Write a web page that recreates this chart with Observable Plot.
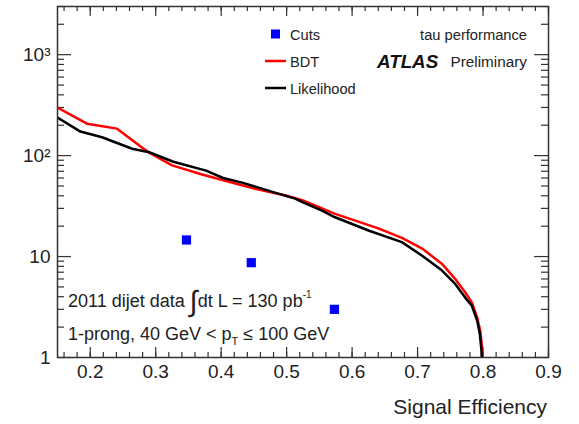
<!DOCTYPE html>
<html><head><meta charset="utf-8">
<script src="https://cdn.jsdelivr.net/npm/d3@7"></script>
<script src="https://cdn.jsdelivr.net/npm/@observablehq/plot@0.6"></script>
<style>
body{margin:0;background:#fff}
#chart{position:relative;width:579px;height:424px}
</style>
</head><body><div id="chart"></div>
<script>
// ---- data ----
const bdtEff = [0.150, 0.195, 0.241, 0.279, 0.290, 0.325, 0.371, 0.403, 0.452, 0.500, 0.525, 0.574, 0.605, 0.640, 0.676, 0.707, 0.737, 0.757, 0.773, 0.783, 0.791, 0.796, 0.7985, 0.799];
const bdtRej = [299, 207, 185, 120, 107, 80, 65, 57, 47, 40, 36, 26.5, 22.7, 19, 15.3, 12.0, 8.5, 6.05, 4.4, 3.5, 2.5, 1.8, 1.25, 1.0];
const likEff = [0.150, 0.185, 0.218, 0.264, 0.290, 0.327, 0.377, 0.403, 0.432, 0.482, 0.513, 0.525, 0.554, 0.574, 0.626, 0.676, 0.707, 0.737, 0.757, 0.773, 0.783, 0.791, 0.795, 0.7975, 0.798];
const likRej = [238, 173, 152, 117, 108, 87, 71, 60, 54, 43, 37.5, 34.5, 28.5, 24.5, 18, 13.9, 10.2, 7.3, 5.4, 3.9, 3.25, 2.32, 1.73, 1.2, 1.0];
const cutsEff = [0.347, 0.446, 0.573];
const cutsRej = [14.6, 8.7, 3.0];

const seriesNames = ["Cuts", "BDT", "Likelihood"];
const seriesColors = ["#0000ff", "#ff0000", "#000000"];

const xTicks = [0.2, 0.3, 0.4, 0.5, 0.6, 0.7, 0.8, 0.9];
const xTickLabels = ["0.2", "0.3", "0.4", "0.5", "0.6", "0.7", "0.8", "0.9"];
const yTicks = [1, 10, 100, 1000];
const yTickLabels = ["1", "10", "10²", "10³"];
const xTitle = "Signal Efficiency";

// ---- build ----
const W = 579, H = 424, mL = 57, mR = 31, mT = 6, mB = 67;
const PW = W - mL - mR, PH = H - mT - mB;
const axisColor = "#333";

const bdt = bdtEff.map((x, i) => ({x, y: bdtRej[i]}));
const lik = likEff.map((x, i) => ({x, y: likRej[i]}));
const cuts = cutsEff.map((x, i) => ({x, y: cutsRej[i]}));

const xMinor = d3.range(8, 46).map(k => k * 0.02);
const yMinor = [];
for (const d of [1, 10, 100, 1000]) for (let k = 2; k <= 9; k++) if (k * d <= 3000) yMinor.push(k * d);

const plot = Plot.plot({
  width: W, height: H,
  marginLeft: mL, marginRight: mR, marginTop: mT, marginBottom: mB,
  style: {fontFamily: "'Liberation Sans', Arial, sans-serif", background: "#fff"},
  x: {domain: [0.15, 0.9]},
  y: {type: "log", domain: [1, 3000]},
  marks: [
    Plot.axisX({ticks: xTicks, tickFormat: d => xTickLabels[xTicks.indexOf(d)], tickSize: 0, tickPadding: 7, fontSize: 19, fill: "#222", label: null}),
    Plot.axisY({ticks: yTicks, tickFormat: d => yTickLabels[yTicks.indexOf(d)], tickSize: 0, tickPadding: 7, fontSize: 19, fill: "#222", label: null}),
    // inward ticks
    Plot.tickX(xMinor, {x: d => d, insetTop: PH - 5, stroke: axisColor, strokeWidth: 1.2}),
    Plot.tickX(xTicks, {x: d => d, insetTop: PH - 10, stroke: axisColor, strokeWidth: 1.2}),
    Plot.tickX(xMinor, {x: d => d, insetBottom: PH - 5, stroke: axisColor, strokeWidth: 1.2}),
    Plot.tickX(xTicks, {x: d => d, insetBottom: PH - 10, stroke: axisColor, strokeWidth: 1.2}),
    Plot.tickY(yMinor, {y: d => d, insetRight: PW - 7, stroke: axisColor, strokeWidth: 1.2}),
    Plot.tickY(yTicks, {y: d => d, insetRight: PW - 14, stroke: axisColor, strokeWidth: 1.2}),
    Plot.tickY(yMinor, {y: d => d, insetLeft: PW - 7, stroke: axisColor, strokeWidth: 1.2}),
    Plot.tickY(yTicks, {y: d => d, insetLeft: PW - 14, stroke: axisColor, strokeWidth: 1.2}),
    Plot.line(bdt, {x: "x", y: "y", stroke: seriesColors[1], strokeWidth: 2.5, clip: true}),
    Plot.line(lik, {x: "x", y: "y", stroke: seriesColors[2], strokeWidth: 2.5, clip: true}),
    Plot.dot(cuts, {x: "x", y: "y", symbol: "square", r: 5.2, fill: seriesColors[0], stroke: null}),
    Plot.frame({stroke: axisColor, strokeWidth: 1.5})
  ]
});
document.getElementById("chart").appendChild(plot);

// ---- texts: legend, labels, annotations ----
const svg = d3.select(plot);
const g = svg.append("g")
  .attr("font-family", "'Liberation Sans', Arial, sans-serif")
  .attr("text-anchor", "start")
  .attr("fill", "#222");

// legend
const legX = 290, legY = [34, 61, 88];
seriesNames.forEach((name, i) => {
  if (i === 0) {
    g.append("rect").attr("x", 271).attr("y", legY[i] - 4.5).attr("width", 9).attr("height", 9).attr("fill", seriesColors[i]);
  } else {
    g.append("line").attr("x1", 265).attr("x2", 286).attr("y1", legY[i]).attr("y2", legY[i])
      .attr("stroke", seriesColors[i]).attr("stroke-width", 2.5);
  }
  g.append("text").attr("x", legX).attr("y", legY[i] + 5.5).attr("font-size", 14.6).text(name);
});

g.append("text").attr("x", 527).attr("y", 39.5).attr("text-anchor", "end").attr("font-size", 14.7).text("tau performance");
g.append("text").attr("x", 377).attr("y", 68).attr("font-size", 18.8).attr("font-weight", "bold").attr("font-style", "italic").attr("fill", "#111").text("ATLAS");
g.append("text").attr("x", 527).attr("y", 67).attr("text-anchor", "end").attr("font-size", 15.3).text("Preliminary");

// axis title
g.append("text").attr("x", 547).attr("y", 414).attr("text-anchor", "end").attr("font-size", 21).text(xTitle);

// annotation 1
const t1 = g.append("text").attr("x", 68).attr("y", 307).attr("font-size", 18);
t1.append("tspan").text("2011 dijet data ");
t1.append("tspan").attr("font-size", 29).attr("dy", 4).text("∫");
t1.append("tspan").attr("dy", -4).text("dt L = 130 pb");
t1.append("tspan").attr("font-size", 10).attr("dy", -9).text("-1");

// annotation 2
const t2 = g.append("text").attr("x", 68).attr("y", 340).attr("font-size", 18);
t2.append("tspan").text("1-prong, 40 GeV < p");
t2.append("tspan").attr("font-size", 11).attr("dy", 5).text("T");
t2.append("tspan").attr("dy", -5).text(" ≤ 100 GeV");
</script>
</body></html>
